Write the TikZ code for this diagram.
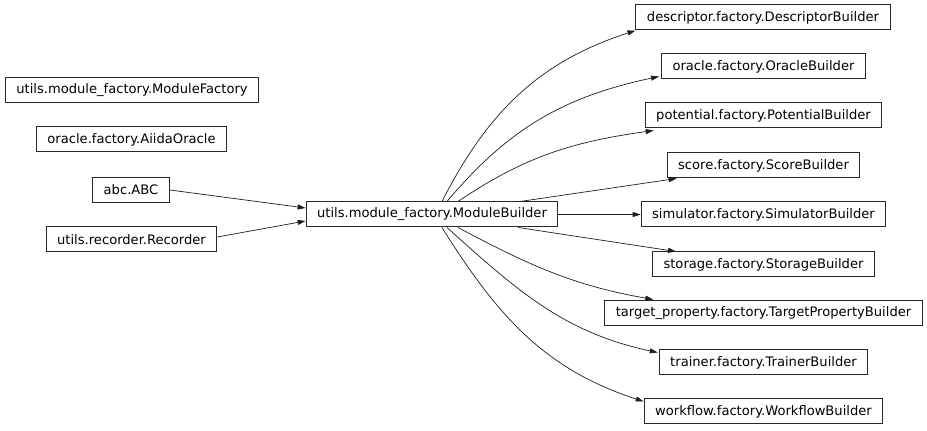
\documentclass[tikz,border=0pt]{standalone}
\usepackage{fontspec}
\setmainfont{DejaVu Sans}
\usepackage{tikz}
\usetikzlibrary{arrows.meta, positioning}
\definecolor{boxline}{RGB}{40,40,40}
\definecolor{edgeline}{RGB}{30,30,30}
\tikzset{
  cls/.style={rectangle, draw=boxline, fill=white, minimum height=25pt, inner xsep=11pt, font=\fontsize{13.1}{15}\selectfont, line width=1pt},
  inh/.style={-{Triangle[length=8pt,width=5pt]}, line width=0.7pt, color=edgeline}
}
\begin{document}
\begin{tikzpicture}[x=1pt, y=1pt]
  \useasboundingbox (0,0) rectangle (927,431);
  % Left column
  \node[cls] (mf)  at (132,340.5) {utils.module\_factory.ModuleFactory};
  \node[cls] (ao)  at (131.5,291.5) {oracle.factory.AiidaOracle};
  \node[cls] (abc) at (131,241) {abc.ABC};
  \node[cls] (rec) at (131.5,191.5) {utils.recorder.Recorder};
  % Centre
  \node[cls] (mb)  at (432,216.5) {utils.module\_factory.ModuleBuilder};
  % Right column
  \node[cls] (desc) at (763,413.5) {descriptor.factory.DescriptorBuilder};
  \node[cls] (orb)  at (763.5,364.5) {oracle.factory.OracleBuilder};
  \node[cls] (pot)  at (763.5,315.5) {potential.factory.PotentialBuilder};
  \node[cls] (sco)  at (763.5,265.5) {score.factory.ScoreBuilder};
  \node[cls] (sim)  at (763.5,216.5) {simulator.factory.SimulatorBuilder};
  \node[cls] (sto)  at (763.5,166.5) {storage.factory.StorageBuilder};
  \node[cls] (tgt)  at (763.5,117.5) {target\_property.factory.TargetPropertyBuilder};
  \node[cls] (tra)  at (763.5,68.5) {trainer.factory.TrainerBuilder};
  \node[cls] (wf)   at (763.5,19.5) {workflow.factory.WorkflowBuilder};

  % Bases
  \draw[inh] (abc.east) -- ([yshift=6.5pt]mb.west);
  \draw[inh] ([yshift=2.5pt]rec.east) -- ([yshift=-6.5pt]mb.west);

  % Subclasses
  \draw[inh] ([xshift=10pt]mb.north) to[out=63, in=198] (desc.south west);
  \draw[inh] ([xshift=15pt]mb.north) to[out=50, in=192] ([xshift=-2pt,yshift=3pt]orb.south west);
  \draw[inh] ([xshift=26pt]mb.north) to[out=34, in=188] ([xshift=9pt,yshift=-2pt]pot.south west);
  \draw[inh] ([xshift=88pt]mb.north) -- ([xshift=10pt]sco.south west);
  \draw[inh] (mb.east) -- (sim.west);
  \draw[inh] ([xshift=86pt]mb.south) -- ([xshift=24pt]sto.north west);
  \draw[inh] ([xshift=26pt]mb.south) to[out=-28, in=170] ([xshift=49pt,yshift=1pt]tgt.north west);
  \draw[inh] ([xshift=15pt]mb.south) to[out=-42, in=168] ([xshift=-1pt,yshift=-3pt]tra.north west);
  \draw[inh] ([xshift=10pt]mb.south) to[out=-58, in=162] ([yshift=-3pt]wf.north west);
\end{tikzpicture}
\end{document}
